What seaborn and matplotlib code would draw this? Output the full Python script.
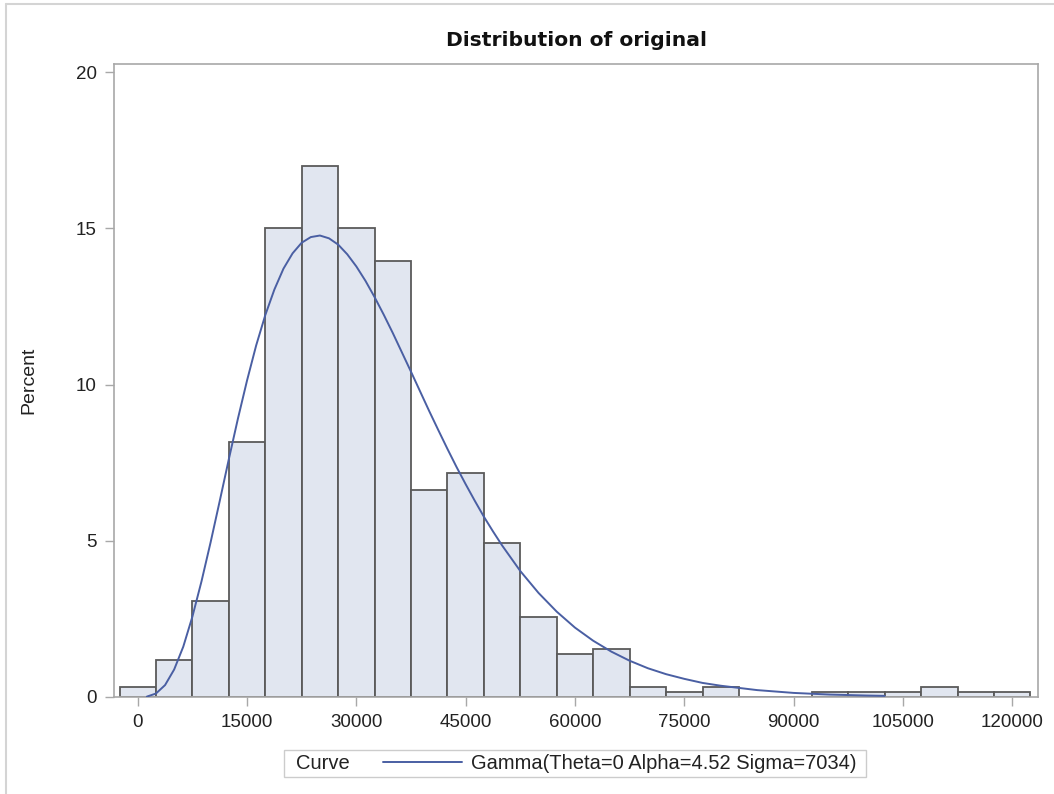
import numpy as np
import pandas as pd
import matplotlib
matplotlib.use("Agg")
import matplotlib.pyplot as plt
from matplotlib.lines import Line2D
from matplotlib.offsetbox import HPacker, DrawingArea
import seaborn as sns

# ---- data ----
bin_centers = [0, 5000, 10000, 15000, 20000, 25000, 30000, 35000, 40000, 45000,
               50000, 55000, 60000, 65000, 70000, 75000, 80000, 85000, 90000,
               95000, 100000, 105000, 110000, 115000, 120000]
percent = [0.33, 1.17, 3.08, 8.17, 15.0, 17.0, 15.0, 13.95, 6.62, 7.17,
           4.94, 2.55, 1.38, 1.54, 0.33, 0.16, 0.33, 0.0, 0.0,
           0.16, 0.16, 0.16, 0.33, 0.16, 0.16]
bin_width = 5000

curve_x = [1250, 2500, 3750, 5000, 6250, 7500, 8750, 10000, 11250, 12500,
           13750, 15000, 16250, 17500, 18750, 20000, 21250, 22500, 23750,
           25000, 26250, 27500, 28750, 30000, 31250, 32500, 33750, 35000,
           36250, 37500, 38750, 40000, 41250, 42500, 43750, 45000, 46250,
           47500, 48750, 50000, 52500, 55000, 57500, 60000, 62500, 65000,
           67500, 70000, 72500, 75000, 77500, 80000, 85000, 90000, 95000,
           100000, 102500]
curve_y = [0.011, 0.11, 0.38, 0.88, 1.61, 2.57, 3.70, 4.95, 6.27, 7.61,
           8.91, 10.13, 11.25, 12.22, 13.04, 13.71, 14.20, 14.54, 14.72,
           14.77, 14.68, 14.48, 14.17, 13.78, 13.32, 12.80, 12.24, 11.65,
           11.03, 10.41, 9.78, 9.15, 8.54, 7.94, 7.36, 6.81, 6.28,
           5.77, 5.30, 4.85, 4.03, 3.33, 2.73, 2.22, 1.80, 1.45,
           1.16, 0.92, 0.73, 0.58, 0.45, 0.36, 0.22, 0.13, 0.077,
           0.046, 0.035]

x_ticks = [0, 15000, 30000, 45000, 60000, 75000, 90000, 105000, 120000]
y_ticks = [0, 5, 10, 15, 20]
title = "Distribution of original"
y_label = "Percent"
legend_title = "Curve"
curve_label = "Gamma(Theta=0 Alpha=4.52 Sigma=7034)"

# ---- style ----
sns.set_style("ticks")
plt.rcParams["font.family"] = ["Liberation Sans", "DejaVu Sans"]

bar_face = "#E1E6F0"
bar_edge = "#5A5A5A"
curve_col = "#4A5FA3"
frame_col = "#A8A8A8"
text_col = "#222222"

fig = plt.figure(figsize=(10.54, 7.94), dpi=100)
ax = fig.add_axes([0.1082, 0.1222, 0.8767, 0.7972])

df_bins = pd.DataFrame({"value": bin_centers, "pct": percent})
sns.histplot(data=df_bins, x="value", weights="pct",
             binwidth=bin_width,
             binrange=(bin_centers[0] - bin_width / 2,
                       bin_centers[-1] + bin_width / 2),
             color=bar_face, edgecolor=bar_edge, linewidth=1.3, alpha=1.0,
             ax=ax, zorder=2)
for p in ax.patches:
    p.set_facecolor(bar_face)

df_curve = pd.DataFrame({"x": curve_x, "y": curve_y})
sns.lineplot(data=df_curve, x="x", y="y", color=curve_col, linewidth=1.4,
             sort=False, ax=ax, zorder=3)

ax.set_xlim(-3250, 123550)
ax.set_ylim(0, 20.26)
ax.set_xticks(x_ticks)
ax.set_yticks(y_ticks)
ax.set_xticklabels([str(v) for v in x_ticks])
ax.set_yticklabels([str(v) for v in y_ticks])
ax.tick_params(axis="both", direction="out", length=6.5, width=1,
               color=frame_col, labelsize=13.5, labelcolor=text_col, pad=6)
for s in ax.spines.values():
    s.set_visible(True)
    s.set_color(frame_col)
    s.set_linewidth(1.2)

ax.set_xlabel("")
ax.set_ylabel(y_label, fontsize=14, color=text_col)
ax.yaxis.set_label_coords(-0.083, 0.5)
ax.set_title(title, fontsize=14.6, fontweight="bold", family="DejaVu Sans",
             color="#111111", pad=13)

# ---- legend: title "Curve" placed to the left of the entry ----
handle = Line2D([], [], color=curve_col, linewidth=1.4)
leg = fig.legend(handles=[handle], labels=[curve_label], title=legend_title,
                 loc="center", bbox_to_anchor=(0.5455, 0.0384),
                 fontsize=14.5, title_fontsize=14.5, frameon=True,
                 fancybox=False, edgecolor="#CCCCCC", framealpha=1,
                 handlelength=3.9, handletextpad=0.45, borderpad=0.3)
leg.get_frame().set_linewidth(1.0)
for t in leg.get_texts():
    t.set_color(text_col)
leg.get_title().set_color(text_col)
try:
    box = HPacker(pad=3, sep=0, align="center",
                  children=[DrawingArea(6, 1), leg._legend_title_box,
                            DrawingArea(24, 1), leg._legend_handle_box,
                            DrawingArea(4, 1)])
    box.set_figure(fig)
    box.axes = leg.axes
    leg._legend_box = box
    leg._legend_box.set_offset(leg._findoffset)
except Exception:
    pass

# thin page border like the reference
fig.add_artist(Line2D([6 / 1054, 1.0], [1 - 4 / 794, 1 - 4 / 794],
                      transform=fig.transFigure, color="#D4D4D4", linewidth=1.5))
fig.add_artist(Line2D([6 / 1054, 6 / 1054], [0.0, 1 - 4 / 794],
                      transform=fig.transFigure, color="#D4D4D4", linewidth=1.5))

fig.savefig("out.png", dpi=100, facecolor="white")
